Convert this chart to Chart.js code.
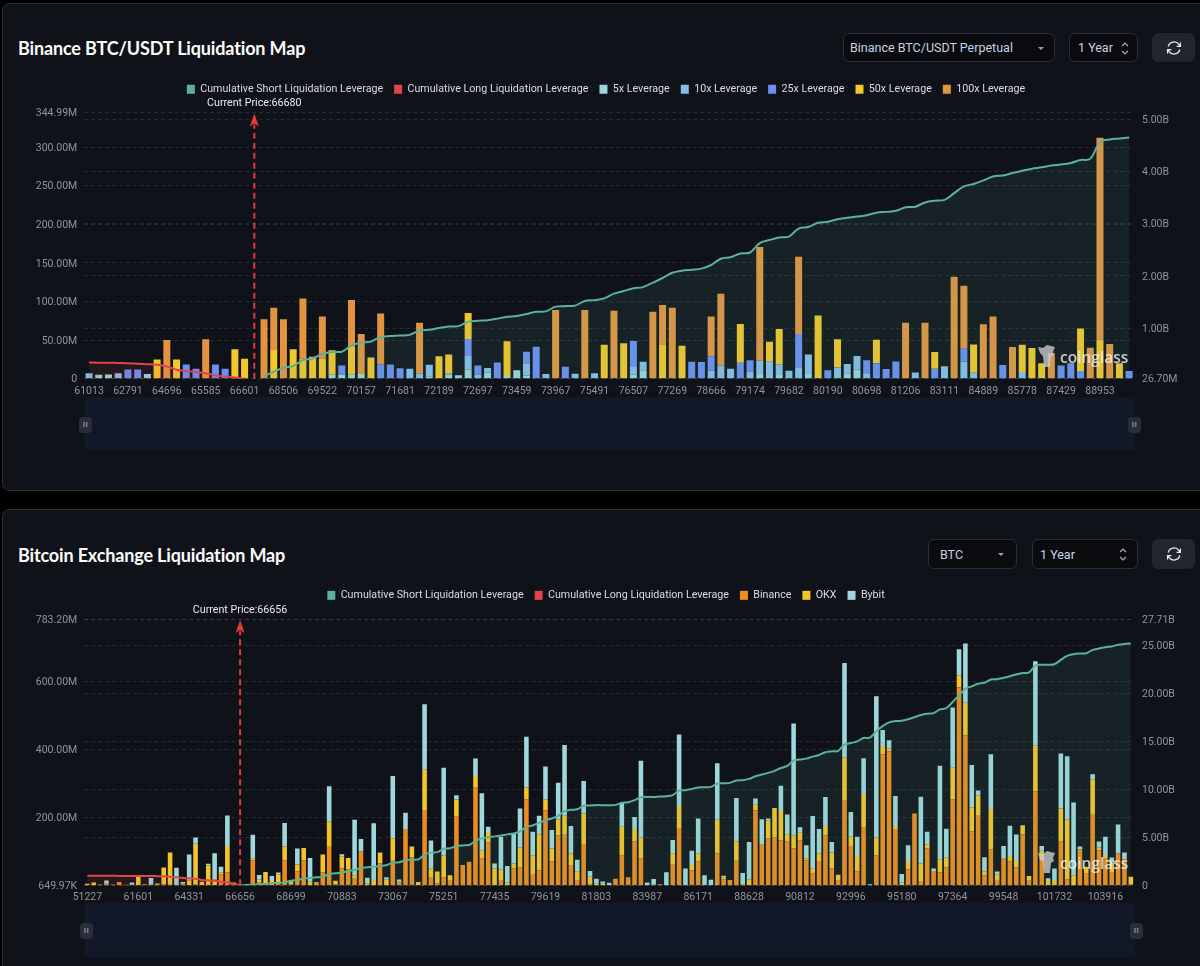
<!DOCTYPE html>
<html><head><meta charset="utf-8">
<script src="https://cdn.jsdelivr.net/npm/chart.js@4"></script>
<style>
html,body{margin:0;padding:0;background:#000;width:1200px;height:966px;overflow:hidden;font-family:Roboto,sans-serif}
.panel{position:absolute;left:2px;width:1210px;background:#0f1219;border:1px solid #2a2d35;border-radius:7px;box-sizing:border-box}
h2{position:absolute;left:18px;margin:0;font-size:18px;line-height:24px;font-weight:700;color:#fff;white-space:nowrap;font-family:Lato,sans-serif;letter-spacing:-.15px}
.ctl{position:absolute;box-sizing:border-box;background:#090b0f;border:1px solid #2a2d35;border-radius:6px;color:#c6d3e3;font-size:12.5px;line-height:28px;padding-left:6px;white-space:nowrap}
.btn{position:absolute;box-sizing:border-box;background:#22252c;border-radius:6px}
.caret{position:absolute;top:13px;width:0;height:0;border-left:3px solid transparent;border-right:3px solid transparent;border-top:3px solid #9aa0a8}
canvas{position:absolute;left:12px}
.band{position:absolute;left:85px;width:1050px;background:#111828}
.hd{position:absolute;width:13px;height:16px;background:#2a2d3a;border-radius:4px;color:#8d919b;font-size:8px;line-height:16px;text-align:center;font-weight:700;letter-spacing:.5px}
.wm{position:absolute;left:1037px;width:92px;height:26px;color:rgba(240,240,240,.8);font:600 15.5px/24px "Open Sans",sans-serif}
.wm span{position:absolute;left:23px;top:1px}
.wm svg{position:absolute;left:0;top:0}
</style></head><body>
<div class="panel" style="top:3px;height:488px"></div>
<div class="panel" style="top:509px;height:480px"></div>
<h2 style="top:36px">Binance BTC/USDT Liquidation Map</h2>
<h2 style="top:543px">Bitcoin Exchange Liquidation Map</h2>

<div class="ctl" style="left:843px;top:33px;width:212px;height:29px">Binance BTC/USDT Perpetual<i class="caret" style="left:194px"></i></div>
<div class="ctl" style="left:1069px;top:33px;width:69px;height:29px;padding-left:8px">1 Year
<svg style="position:absolute;left:50px;top:7px" width="10" height="15" fill="none" stroke="#a8adb5" stroke-width="1.2"><path d="M2 5l3-3 3 3M2 10l3 3 3-3"/></svg></div>
<div class="btn" style="left:1152px;top:33px;width:43px;height:29px"><svg style="position:absolute;left:14px;top:7px" width="16" height="16" viewBox="0 0 16 16" fill="none" stroke="#e6e8ec" stroke-width="1.3"><path d="M2.2 6.5A6 6 0 0 1 13 4.6l1 1.6M13.8 9.5A6 6 0 0 1 3 11.4l-1-1.6M14.4 2.6v3.8h-3.8M1.6 13.4V9.6h3.8"/></svg></div>

<div class="ctl" style="left:928px;top:539px;width:89px;height:30px;padding-left:11px;line-height:29px">BTC<i class="caret" style="left:69px"></i></div>
<div class="ctl" style="left:1032px;top:539px;width:106px;height:30px;line-height:29px;padding-left:7px">1 Year
<svg style="position:absolute;left:85px;top:7px" width="10" height="15" fill="none" stroke="#a8adb5" stroke-width="1.2"><path d="M2 5l3-3 3 3M2 10l3 3 3-3"/></svg></div>
<div class="btn" style="left:1152px;top:539px;width:43px;height:30px"><svg style="position:absolute;left:14px;top:7px" width="16" height="16" viewBox="0 0 16 16" fill="none" stroke="#e6e8ec" stroke-width="1.3"><path d="M2.2 6.5A6 6 0 0 1 13 4.6l1 1.6M13.8 9.5A6 6 0 0 1 3 11.4l-1-1.6M14.4 2.6v3.8h-3.8M1.6 13.4V9.6h3.8"/></svg></div>

<canvas id="c1" width="1188" height="328" style="top:73px"></canvas>
<canvas id="c2" width="1188" height="329" style="top:579px"></canvas>

<div class="band" style="top:397px;height:53px"></div>
<div class="hd" style="left:79px;top:417px">II</div><div class="hd" style="left:1128px;top:417px">II</div>
<div class="band" style="top:903px;height:54px"></div>
<div class="hd" style="left:80px;top:923px">II</div><div class="hd" style="left:1130px;top:923px">II</div>

<div class="wm" style="top:344px"><svg width="20" height="24" fill="rgba(200,200,200,.8)"><path d="M1 3l5 1 4-3 8 2-2 5 1 3-3 2-1 10H7L6 12 3 9z"/></svg><span>coinglass</span></div>
<div class="wm" style="top:850px"><svg width="20" height="24" fill="rgba(200,200,200,.8)"><path d="M1 3l5 1 4-3 8 2-2 5 1 3-3 2-1 10H7L6 12 3 9z"/></svg><span>coinglass</span></div>

<script>
/* ---------- Chart 1: Binance BTC/USDT ---------- */
const tickLabels1=[61013,62791,64696,65585,66601,68506,69522,70157,71681,72189,72697,73459,73967,75491,76507,77269,78666,79174,79682,80190,80698,81206,83111,84889,85778,87429,88953];
const currentPrice1=66680, currentIndex1=17;
const lev5=[0,5,5.5,0,0,0,6,0,0,0,
0,0,0,0,0,0,0,0,0,0,
0,0,0,0,0,5,5,5,6,0,
0,0,0,0,0,2.6,0,5,4.5,12,
0,8,0,3.5,11,4,0,0,0,0,
0,0,0,0,0,0,5,11,0,0,
0,0,0,0,0,0,0,0,0,4.7,
0,4.7,0,0,4.7,0,0,0,7,12,
0,0,0,0,0,0,0,0,0,0,
0,0,0,0,0,0,0,0,0,0,
0,0,0,0,0,0,0,0];
const lev10=[7,0,0,7,0,0,0,0,0,0,
0,0,0,0,0,0,0,0,0,0,
0,0,0,0,0,0,0,0,0,0,
0,0,0,13,6.5,15.5,0,1.5,0,17.3,
5,6,0,0,0,16,0,6,0,0,
6.5,0,7,0,0,0,10,11,0,0,
0,0,0,0,10.3,17,13,0,9,18.6,
22,13.8,10.3,14,26.8,0,0,14.6,12,17.3,
7,0,0,0,0,8,0,0,16,0,
22,7.8,0,0,0,0,8.6,0,0,0,
0,0,0,0,0,0,0,0];
const lev25=[0,0,0,0,12,12,0,0,0,0,
18.5,13,0,18.5,13,0,0,0,0,0,
0,0,0,0,0,0,12,0,0,0,
18.5,18.5,13.4,0,0,0,0,0,0,22,
12,0,21,0,0,15,41.4,0,0,15.5,
0,0,0,0,0,0,34,0,0,0,
0,0,22,21.5,18.7,0,0,20.7,15,0,
0,0,0,44,0,0,11,0,0,0,
17,20,12.5,22.4,0,0,0,13,0,0,
16.8,0,0,0,17.7,0,0,0,0,0,
17,20,10,0,0,0,0,10];
const lev50=[0,0,0,0,0,0,0,25,0,25,
0,0,0,0,0,38,26,0,0,38,
0,38,26,28.5,26,32,0,36,0,27.6,
0,0,0,0,0,0,29,25,0,33.7,
0,0,0,45,0,0,0,0,0,0,
0,0,0,44,0,46,0,0,0,43.5,
0,42.7,0,0,0,0,0,50.3,0,0,
26,46,0,0,0,82,0,36.4,0,0,
0,30.4,0,0,0,0,0,21.5,0,0,
0,36.6,0,0,0,0,35.4,39.7,20,0,
0,0,55,0,50.4,0,20,0];
const lev100=[0,0,0,0,0,0,0,0,50,0,
0,0,51,0,0,0,0,0,77,54,
77,0,78,0,54.6,0,0,61,52,0,
66,0,0,0,66,0,0,0,0,0,
0,0,0,0,0,0,0,0,89,0,
0,89,0,0,88,0,0,0,86.6,52,
92,0,0,0,51.6,93,0,0,0,147.4,
0,0,0,100,0,0,0,0,0,0,
0,0,0,0,72.4,0,72.4,0,0,132,
81.5,0,70.7,80.6,0,41,0,0,0,33,
0,0,0,40,261.6,45,0,0];
const cumShort1=[null,null,null,null,null,null,null,null,null,null,
null,null,null,null,null,null,null,null,.078,.16,
.24,.27,.385,.415,.5,.54,.545,.665,.72,.74,
.83,.845,.855,.87,.955,.966,1,1.03,1.036,1.12,
1.14,1.15,1.18,1.215,1.23,1.27,1.31,1.32,1.41,1.42,
1.43,1.52,1.535,1.57,1.66,1.71,1.765,1.785,1.87,1.96,
2.06,2.1,2.12,2.14,2.21,2.33,2.36,2.43,2.45,2.63,
2.69,2.74,2.755,2.91,2.94,3.02,3.04,3.09,3.115,3.14,
3.165,3.215,3.23,3.25,3.32,3.33,3.41,3.445,3.46,3.59,
3.72,3.765,3.835,3.91,3.93,3.975,4.02,4.06,4.085,4.12,
4.14,4.17,4.225,4.25,4.57,4.62,4.64,4.66];
const cumLong1=[.34,.335,.335,.33,.325,.315,.305,.295,.26,.2,
.174,.155,.13,.09,.07,.05,.027];
const leftTicks1=[0,50,100,150,200,250,300,344.99];
const leftLabels1=['0','50.00M','100.00M','150.00M','200.00M','250.00M','300.00M','344.99M'];
const rightTicks1=[.0267,1,2,3,4,5];
const rightLabels1=['26.70M','1.00B','2.00B','3.00B','4.00B','5.00B'];

/* ---------- Chart 2: Bitcoin exchanges ---------- */
const tickLabels2=[51227,61601,64331,66656,68699,70883,73067,75251,77435,79619,81803,83987,86171,88628,90812,92996,95180,97364,99548,101732,103916];
const currentPrice2=66656, currentIndex2=24;
const binance=[1,0,3,2,3,10,2,1,0,4,
1,2,3,2,0,2,0,2,0,0,
0,33,39,4,0,0,74,8,6,0,
6,74,3,42,74,0,8,38,116,3,
50,48,22,100,0,0,65,0,73,8,
166,82,0,220,25,6,24,16,202,60,
70,287,80,127,0,16,0,50,53,253,
32,45,221,71,147,149,60,16,122,4,
0,0,0,20,89,24,129,80,0,0,
2,0,63,169,0,45,71,0,0,94,
18,14,73,0,0,221,120,139,141,133,
129,109,133,74,35,72,147,50,16,251,
116,42,172,0,89,386,394,166,0,47,
212,13,109,43,39,53,253,582,441,159,
207,30,106,16,79,71,54,151,14,276,
75,0,0,130,18,0,106,37,210,104,
79,40,94,77,4];
const okx=[4,9,0,3,0,0,0,1,26,0,
1,4,50,95,0,4,15,121,11,59,
18,6,77,5,0,0,5,10,34,16,
27,41,10,20,36,11,2,53,73,11,
36,33,8,0,6,16,31,18,66,3,
0,33,10,120,24,35,64,14,51,0,
0,35,22,30,50,31,9,15,59,35,
57,106,32,38,47,56,34,26,90,22,
5,5,0,0,84,0,37,61,0,2,
2,0,32,65,0,15,23,1,0,100,
6,2,57,4,18,18,0,51,87,86,
22,38,22,6,14,22,28,47,16,125,
27,45,97,0,52,24,9,9,8,25,
0,52,12,0,37,30,93,36,96,71,
58,11,119,16,0,16,21,26,14,135,
27,13,16,96,176,30,0,18,102,8,
8,28,0,0,22];
const bybit=[0,0,0,10,0,0,0,7,0,0,
20,0,0,0,52,4,76,18,0,5,
77,16,90,0,0,0,70,13,0,12,
5,69,0,47,0,70,0,0,103,0,
6,0,163,37,17,167,1,6,183,7,
48,0,0,193,83,0,258,0,12,0,
0,51,169,16,15,96,48,88,114,149,
69,54,97,54,108,208,81,34,95,17,
15,7,8,0,70,0,35,226,9,17,
0,39,39,210,50,42,103,29,17,165,
5,0,127,33,110,17,75,7,0,74,
58,329,16,38,155,72,85,31,0,278,
73,56,105,4,415,47,24,88,26,46,
0,196,37,7,276,84,177,76,174,124,
14,42,161,9,37,89,75,0,0,248,
14,8,34,162,186,214,9,0,15,17,
56,14,85,20,0];
const cumShort2=[null,null,null,null,null,null,null,null,null,null,
null,null,null,null,null,null,null,null,null,null,
null,null,null,null,0,.03,.07,.12,.17,.22,
.25,.33,.48,.55,.69,.78,.83,.88,1.2,1.25,
1.33,1.5,1.6,1.8,1.87,1.92,2,2.1,2.35,2.4,
2.6,2.66,2.69,3.2,3.4,3.45,3.8,3.85,4.08,4.15,
4.2,4.6,4.88,5,5.09,5.19,5.3,5.4,5.6,6.09,
6.23,6.5,6.78,6.95,7.23,7.72,7.85,7.92,8.27,8.3,
8.34,8.34,8.34,8.37,8.58,8.65,8.86,9.17,9.2,9.2,
9.24,9.27,9.38,9.86,9.9,10.03,10.17,10.2,10.24,10.59,
10.62,10.66,10.9,10.93,11.07,11.35,11.52,11.7,11.9,12.2,
12.42,12.98,13.08,13.18,13.39,13.56,13.84,13.94,13.98,14.64,
14.8,14.98,15.33,15.36,16.05,16.57,16.96,17.09,17.13,17.27,
17.5,17.72,17.85,17.92,18.3,18.44,19.07,19.76,20.45,20.7,
20.97,21.07,21.42,21.45,21.6,21.76,21.94,22.1,22.15,22.87,
22.94,22.94,23,23.46,23.88,24.05,24.12,24.15,24.5,24.64,
24.78,24.85,25.02,25.12,25.16];
const cumLong2=[1,1,1,.99,.99,.98,.98,.97,.97,.96,
.96,.95,.93,.9,.83,.76,.73,.69,.55,.52,
.48,.38,.31,.14,0];
const leftTicks2=[.65,200,400,600,783.2];
const leftLabels2=['649.97K','200.00M','400.00M','600.00M','783.20M'];
const rightTicks2=[0,5,10,15,20,25,27.71];
const rightLabels2=['0','5.00B','10.00B','15.00B','20.00B','25.00B','27.71B'];

/* ---------- Styling ---------- */
const GREEN='#5bb19a', RED='#e0454a', GRID='rgba(130,140,150,.2)', TICK='#8f949c';
const C5='#97d5d8',C10='#86bde8',C25='#6b8ef2',C50='#f3c62c',C100='#e29440';
const CB='#ee8b1e',CO='#f4c52a',CY='#9fd7dc';
const TICKFONT={size:10.5,family:'Roboto'};

function buildCats(ticks,every,step,n){
  const out=[];
  for(let i=0;i<n;i++){
    const k=Math.floor(i/every),a=ticks[k],b=ticks[k+1]??a+step*every;
    out.push(String(Math.round(a+(b-a)*(i%every)/every)));
  }
  return out;
}
function currentPricePlugin(idx,price,gap){
  return {
    id:'currentPrice',
    beforeLayout(chart){
      const lg=chart.legend;
      if(lg&&!lg._wrapped){const f=lg.fit;lg.fit=function(){f.call(this);this.height=gap;};lg._wrapped=true;}
    },
    afterDatasetsDraw(chart){
      const ctx=chart.ctx,a=chart.chartArea,x=chart.scales.x.getPixelForValue(idx);
      ctx.save();
      ctx.strokeStyle='#e03a3c';ctx.fillStyle='#e03a3c';ctx.lineWidth=2;ctx.setLineDash([6,4]);
      ctx.beginPath();ctx.moveTo(x,a.bottom);ctx.lineTo(x,a.top+12);ctx.stroke();
      ctx.setLineDash([]);
      ctx.beginPath();ctx.moveTo(x,a.top+1);ctx.lineTo(x+4.5,a.top+14);ctx.lineTo(x,a.top+11);ctx.lineTo(x-4.5,a.top+14);ctx.closePath();ctx.fill();
      ctx.fillStyle='#e8eaee';ctx.font='10.7px Roboto';ctx.textAlign='center';ctx.textBaseline='middle';
      ctx.fillText('Current Price:'+price,x,a.top-9);
      ctx.restore();
    }
  };
}
function makeChart(id,o){
  const bars=o.bars.map(b=>({type:'bar',label:b.label,data:b.data,backgroundColor:b.color,yAxisID:'y',stack:'s',barPercentage:.72,categoryPercentage:1,order:2}));
  const line=(label,data,color,fill)=>({type:'line',label,data,borderColor:color,backgroundColor:fill,fill:'origin',borderWidth:2,pointRadius:0,tension:.35,yAxisID:'y1',order:1});
  new Chart(document.getElementById(id),{
    data:{labels:o.cats,datasets:[
      line('Cumulative Short Liquidation Leverage',o.cumShort,GREEN,'rgba(90,180,150,.1)'),
      line('Cumulative Long Liquidation Leverage',o.cumLong,RED,'rgba(224,69,74,.1)'),
      ...bars]},
    options:{
      responsive:false,animation:false,devicePixelRatio:1,
      layout:{padding:0},
      plugins:{tooltip:{enabled:false},title:{display:false},
        legend:{position:'top',align:'center',labels:{color:'#d9dce1',boxWidth:8,boxHeight:9,padding:11,font:{size:10.7,family:'Roboto'},
          generateLabels(c){return c.data.datasets.map((d,i)=>({text:d.label,fillStyle:d.type==='line'?d.borderColor:d.backgroundColor,strokeStyle:'transparent',lineWidth:0,datasetIndex:i,fontColor:'#d9dce1'}));}}}},
      scales:{
        x:{stacked:true,offset:true,afterFit:s=>{s.height=o.xh;},grid:{display:false,drawTicks:false,tickLength:0},border:{display:false},
          ticks:{color:TICK,autoSkip:false,maxRotation:0,minRotation:0,padding:6,font:TICKFONT,
            callback(v,i){return i%o.every===0?this.getLabelForValue(v):'';}}},
        y:{position:'left',stacked:true,min:o.lt[0],max:o.lt[o.lt.length-1],afterFit:s=>{s.width=72.2;},
          afterBuildTicks:s=>{s.ticks=o.lt.map(value=>({value}));},
          grid:{color:GRID,drawTicks:false},border:{display:false,dash:[4,3]},
          ticks:{color:TICK,padding:7,labelOffset:1,font:TICKFONT,callback:(v,i)=>o.ll[i]}},
        y1:{position:'right',min:o.rmin,max:o.rmax,afterFit:s=>{s.width=66;},
          afterBuildTicks:s=>{s.ticks=o.rt.map(value=>({value}));},
          grid:{color:GRID,drawTicks:false},border:{display:false,dash:[4,3]},
          ticks:{color:TICK,padding:8,labelOffset:1,font:TICKFONT,callback:(v,i)=>o.rl[i]}}
      }
    },
    plugins:[currentPricePlugin(o.idx,o.price,o.gap)]
  });
}
const cats1=buildCats(tickLabels1,4,127,lev5.length); cats1[currentIndex1]=String(currentPrice1);
const cats2=buildCats(tickLabels2,8,273,binance.length);
makeChart('c1',{cats:cats1,every:4,idx:currentIndex1,price:currentPrice1,gap:39.4,xh:22.3,cumShort:cumShort1,cumLong:cumLong1,
  lt:leftTicks1,ll:leftLabels1,rt:rightTicks1,rl:rightLabels1,rmin:.0267,rmax:5.14,
  bars:[{label:'5x Leverage',data:lev5,color:C5},{label:'10x Leverage',data:lev10,color:C10},{label:'25x Leverage',data:lev25,color:C25},{label:'50x Leverage',data:lev50,color:C50},{label:'100x Leverage',data:lev100,color:C100}]});
makeChart('c2',{cats:cats2,every:8,idx:currentIndex2,price:currentPrice2,gap:40,xh:22.7,cumShort:cumShort2,cumLong:cumLong2,
  lt:leftTicks2,ll:leftLabels2,rt:rightTicks2,rl:rightLabels2,rmin:0,rmax:27.71,
  bars:[{label:'Binance',data:binance,color:CB},{label:'OKX',data:okx,color:CO},{label:'Bybit',data:bybit,color:CY}]});
</script>
</body></html>
